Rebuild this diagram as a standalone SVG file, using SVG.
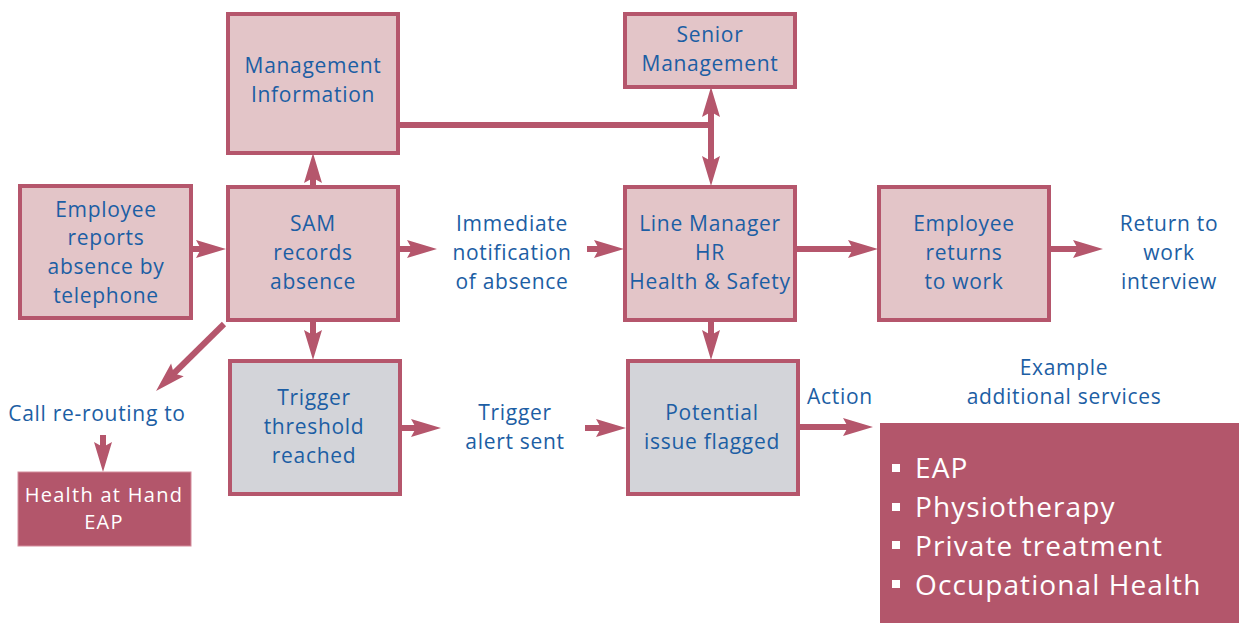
<svg xmlns="http://www.w3.org/2000/svg" width="1239" height="623" viewBox="0 0 1239 623">
<style>
.box{fill:#e3c5c8;stroke:#b5566c;stroke-width:4}
.gbox{fill:#d3d4d9;stroke:#b5566c;stroke-width:4}
.dbox{fill:#b3566b;stroke:#d48c9c;stroke-width:1}
.t{font-family:"Open Sans","Liberation Sans",sans-serif;font-size:21px;letter-spacing:0.7px;fill:#1c5ea4;text-anchor:middle}
.w{font-family:"Open Sans","Liberation Sans",sans-serif;font-size:20px;letter-spacing:1.3px;fill:#ffffff;text-anchor:middle}
.b{font-family:"Open Sans","Liberation Sans",sans-serif;font-size:28px;letter-spacing:1.1px;fill:#ffffff}
.c line{stroke:#b5566c;stroke-width:6;fill:none}
.arr{marker-end:url(#ah)}
</style>
<defs>
<marker id="ah" markerUnits="userSpaceOnUse" markerWidth="40" markerHeight="30" viewBox="-10 -15 40 30" refX="0" refY="0" orient="auto-start-reverse">
<path d="M22,0 L-8,-9 L-3,0 L-8,9 Z" fill="#b5566c"/>
</marker>
</defs>
<rect width="1239" height="623" fill="#ffffff"/>
<g id="conn" class="c">
<line class="arr" x1="192" y1="249" x2="204" y2="249"/>
<line class="arr" x1="313" y1="186" x2="313" y2="175"/>
<line class="arr" x1="400" y1="249" x2="415" y2="249"/>
<line class="arr" x1="587" y1="249" x2="602" y2="249"/>
<line x1="398" y1="125" x2="714" y2="125"/>
<line x1="711" y1="109" x2="711" y2="164" style="marker-start:url(#ah);marker-end:url(#ah)"/>
<line class="arr" x1="796" y1="249" x2="856" y2="249"/>
<line class="arr" x1="1050" y1="249" x2="1081" y2="249"/>
<line class="arr" x1="711" y1="320" x2="711" y2="338"/>
<line class="arr" x1="313" y1="320" x2="313" y2="338"/>
<line class="arr" x1="400" y1="428" x2="419" y2="428"/>
<line class="arr" x1="585" y1="428" x2="604" y2="428"/>
<line class="arr" x1="798" y1="427" x2="851" y2="427"/>
<line class="arr" x1="224" y1="324" x2="171.7" y2="375.5"/>
<line class="arr" x1="103" y1="435" x2="103" y2="450"/>
</g>
<g id="n-mi"><rect class="box" x="228" y="14" width="170" height="139"/>
<text class="t" x="313" y="73">Management</text><text class="t" x="313" y="102">Information</text></g>
<g id="n-sm"><rect class="box" x="625" y="14" width="170" height="73"/>
<text class="t" x="710" y="42">Senior</text><text class="t" x="710" y="71">Management</text></g>
<g id="n-emp"><rect class="box" x="20" y="186" width="171" height="132"/>
<text class="t" x="106" y="217">Employee</text><text class="t" x="106" y="245">reports</text><text class="t" x="106" y="274">absence by</text><text class="t" x="106" y="303">telephone</text></g>
<g id="n-sam"><rect class="box" x="228" y="187" width="170" height="133"/>
<text class="t" x="313" y="231">SAM</text><text class="t" x="313" y="260">records</text><text class="t" x="313" y="289">absence</text></g>
<g id="n-imm">
<text class="t" x="512" y="231">Immediate</text><text class="t" x="512" y="260">notification</text><text class="t" x="512" y="289">of absence</text></g>
<g id="n-lm"><rect class="box" x="625" y="187" width="170" height="133"/>
<text class="t" x="710" y="231">Line Manager</text><text class="t" x="710" y="260">HR</text><text class="t" x="710" y="289">Health &amp; Safety</text></g>
<g id="n-er"><rect class="box" x="879" y="187" width="170" height="133"/>
<text class="t" x="964" y="231">Employee</text><text class="t" x="964" y="260">returns</text><text class="t" x="964" y="289">to work</text></g>
<g id="n-rtw">
<text class="t" x="1169" y="231">Return to</text><text class="t" x="1169" y="260">work</text><text class="t" x="1169" y="289">interview</text></g>
<g id="n-call"><text class="t" x="97" y="421">Call re-routing to</text></g>
<g id="n-hah"><rect class="dbox" x="18" y="472" width="173" height="74"/>
<text class="w" x="104" y="502">Health at Hand</text><text class="w" x="104" y="529">EAP</text></g>
<g id="n-tt"><rect class="gbox" x="230" y="361" width="170" height="133"/>
<text class="t" x="314" y="405">Trigger</text><text class="t" x="314" y="434">threshold</text><text class="t" x="314" y="463">reached</text></g>
<g id="n-alert">
<text class="t" x="515" y="420">Trigger</text><text class="t" x="515" y="449">alert sent</text></g>
<g id="n-pi"><rect class="gbox" x="628" y="361" width="170" height="133"/>
<text class="t" x="712" y="420">Potential</text><text class="t" x="712" y="449">issue flagged</text></g>
<g id="n-action"><text class="t" x="840" y="404">Action</text></g>
<g id="n-ex"><text class="t" x="1064" y="375">Example</text><text class="t" x="1064" y="404">additional services</text></g>
<g id="n-svc"><rect x="880" y="423" width="359" height="200" fill="#b3566b"/>
<rect x="892" y="464" width="8" height="8" fill="#ffffff"/>
<rect x="892" y="503" width="8" height="8" fill="#ffffff"/>
<rect x="892" y="541" width="8" height="8" fill="#ffffff"/>
<rect x="892" y="580" width="8" height="8" fill="#ffffff"/>
<text class="b" x="915" y="478">EAP</text>
<text class="b" x="915" y="517">Physiotherapy</text>
<text class="b" x="915" y="556">Private treatment</text>
<text class="b" x="915" y="595">Occupational Health</text></g>
</svg>
